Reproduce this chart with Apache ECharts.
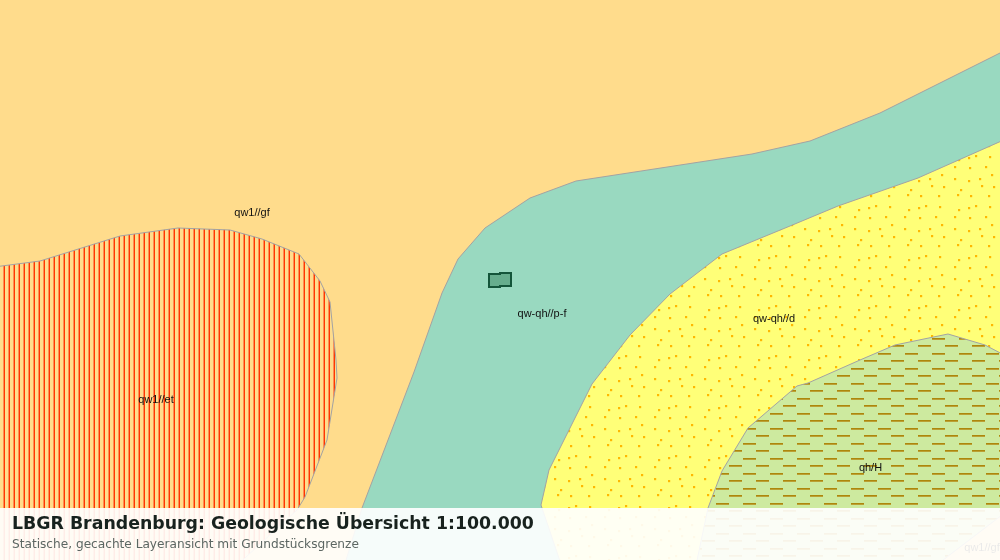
<!DOCTYPE html>
<html>
<head>
    <meta charset="utf-8">
    <title>LBGR Brandenburg</title>
    <script src="https://cdn.jsdelivr.net/npm/echarts@6/dist/echarts.min.js"></script>
    <style>html,body{margin:0;padding:0;background:#fff}</style>
</head>
<body>
    <div id="main" style="width:1000px;height:560px;"></div>
    <script type="text/javascript">
    // map units, outlines (x, y in map pixels)
    // ends run a little past the frame so no outline shows along the edge
    var unitGf = [[0,0],[1000,0],[1000,560],[0,560]];
    var unitEt = [[-6,267],[40,261],[120,236],[178,228],[230,230],[262,239],[299,254],[320,281],[330,302],[336,360],[337,378],[327,440],[305,497],[297,510],[232,570],[-6,570]];
    var unitPf = [[1006,50],[980,63],[880,113],[810,141],[752,154],[576,181],[530,198],[485,228],[458,259],[442,293],[414,372],[362,508],[343,570],[1006,570]];
    var unitD = [[1006,139],[918,178],[838,206],[790,226],[722,254],[670,294],[630,335],[592,384],[549,470],[541,505],[563,570],[1006,570]];
    var unitH = [[1006,356],[985,345],[948,334],[895,345],[860,360],[808,383],[797,386],[748,428],[722,471],[708,508],[695,570],[930,570],[1006,512]];
    var unitGf2 = [[1006,512],[930,570],[1006,570]];
    var parcel = [[489,274],[500,274],[500,273],[511,273],[511,286],[500,286],[500,287],[489,287]];

    var labelNames = ['qw1//gf', 'qw1//et', 'qw-qh//p-f', 'qw-qh//d', 'qh/H', 'qw1//gf'];
    var labelX = [252, 156, 542, 774, 870.5, 982];
    var labelY = [213, 399.5, 313.5, 318.5, 467.5, 547.5];

    function makeTile(w, h, bg, draw) {
        var c = document.createElement('canvas');
        c.width = w;
        c.height = h;
        var ctx = c.getContext('2d');
        ctx.fillStyle = bg;
        ctx.fillRect(0, 0, w, h);
        draw(ctx);
        return {image: c, repeat: 'repeat'};
    }

    var stripeFill = makeTile(5, 5, '#ffdc8c', function (ctx) {
        ctx.fillStyle = '#ff8e50';
        ctx.fillRect(3, 0, 1, 5);
        ctx.fillStyle = '#ff3600';
        ctx.fillRect(4, 0, 1, 5);
    });

    // the dot texture repeats every 50px
    var dotTile = [[4,28],[18,30],[29,28],[41,24],[31,35],[43,36],[10,39],[7,44],[20,45],[38,45],[8,9],[18,7],[25,5],[39,6],[4,16],[19,17],[35,16]];
    var dotFill = makeTile(50, 50, '#ffff78', function (ctx) {
        ctx.fillStyle = '#ffb800';
        dotTile.forEach(function (d) {
            ctx.fillRect(d[0], d[1], 2.2, 2.2);
        });
    });

    var dashFill = makeTile(27, 15, '#cdea9f', function (ctx) {
        ctx.fillStyle = '#ad870c';
        ctx.fillRect(0, 0, 13, 1);
        ctx.fillRect(14, 8, 13, 1);
        ctx.fillStyle = '#bba034';
        ctx.fillRect(0, 1, 13, 1);
        ctx.fillRect(14, 9, 13, 1);
    });

    function polygonSeries(points, fill, stroke, lineWidth) {
        return {
            type: 'custom',
            coordinateSystem: 'cartesian2d',
            silent: true,
            clip: false,
            data: [0],
            renderItem: function (params, api) {
                return {
                    type: 'polygon',
                    shape: {points: points.map(function (p) { return api.coord(p); })},
                    style: {fill: fill, stroke: stroke, lineWidth: lineWidth}
                };
            }
        };
    }

    var myChart = echarts.init(document.getElementById('main'));

    var option = {
        animation: false,
        title: {
            text: 'LBGR Brandenburg: Geologische Übersicht 1:100.000',
            subtext: 'Statische, gecachte Layeransicht mit Grundstücksgrenze',
            left: 12,
            top: 516,
            padding: 0,
            itemGap: 6,
            z: 101,
            textStyle: {fontFamily: 'DejaVu Sans', fontSize: 17.35, fontWeight: 'bold', color: '#18221e'},
            subtextStyle: {fontFamily: 'DejaVu Sans', fontSize: 12.15, color: '#5c6662'}
        },
        grid: {left: 0, right: 0, top: 0, bottom: 0},
        xAxis: {type: 'value', min: 0, max: 1000, show: false},
        yAxis: {type: 'value', min: 0, max: 560, inverse: true, show: false},
        graphic: [{
            type: 'rect',
            z: 100,
            shape: {x: 0, y: 508, width: 1000, height: 52},
            style: {fill: 'rgba(255,255,255,0.91)'}
        }],
        series: [
            polygonSeries(unitGf, '#ffdc8c', 'none', 0),
            polygonSeries(unitEt, stripeFill, '#a3a3a3', 1),
            polygonSeries(unitPf, '#99d9c0', '#a3a3a3', 1),
            polygonSeries(unitD, dotFill, '#a3a3a3', 1),
            polygonSeries(unitH, dashFill, '#a3a3a3', 1),
            polygonSeries(unitGf2, '#ffdc8c', '#a3a3a3', 1),
            polygonSeries(parcel, 'rgba(40,120,80,0.45)', '#14553a', 2),
            {
                type: 'custom',
                coordinateSystem: 'cartesian2d',
                silent: true,
                data: labelNames.map(function (n, i) { return [labelX[i], labelY[i], n]; }),
                renderItem: function (params, api) {
                    var p = api.coord([api.value(0), api.value(1)]);
                    return {
                        type: 'text',
                        x: p[0],
                        y: p[1],
                        style: {
                            text: labelNames[params.dataIndex],
                            fill: '#111',
                            align: 'center',
                            verticalAlign: 'middle',
                            font: '11px "Liberation Sans"'
                        }
                    };
                }
            }
        ]
    };

    myChart.setOption(option);
    </script>
</body>
</html>
